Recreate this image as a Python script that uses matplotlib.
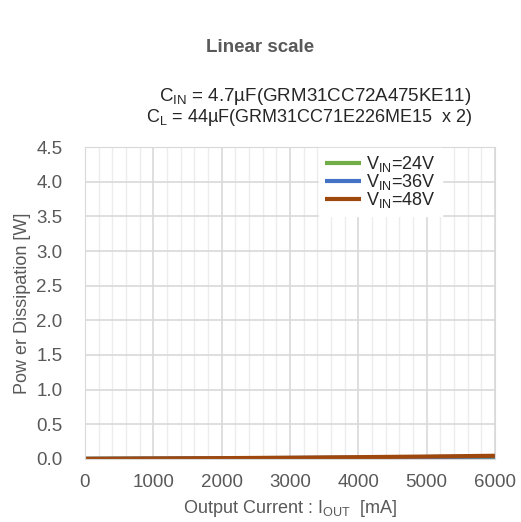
import numpy as np
import matplotlib.pyplot as plt
from matplotlib.ticker import MultipleLocator

plt.rcParams['font.family'] = ['Liberation Sans', 'DejaVu Sans']

# Data (mA, W)
current = [0, 1000, 2000, 3000, 4000, 5000, 6000]
p_24v = [0.0, 0.002, 0.004, 0.006, 0.009, 0.012, 0.016]
p_36v = [0.0, 0.004, 0.008, 0.013, 0.019, 0.026, 0.034]
p_48v = [0.0, 0.005, 0.010, 0.016, 0.024, 0.033, 0.044]
labels = ['V$_{\\mathregular{IN}}$=24V', 'V$_{\\mathregular{IN}}$=36V', 'V$_{\\mathregular{IN}}$=48V']
colors = ['#70ad47', '#4472c4', '#9e480e']

fig = plt.figure(figsize=(5.21, 5.22), dpi=100)
ax = fig.add_axes([0.163, 0.121, 0.787, 0.597])

for y, lab, c in zip([p_24v, p_36v, p_48v], labels, colors):
    ax.plot(current, y, color=c, lw=3, label=lab, solid_capstyle='butt')

ax.set_xlim(0, 6000)
ax.set_ylim(0, 4.5)
ax.xaxis.set_major_locator(MultipleLocator(1000))
ax.xaxis.set_minor_locator(MultipleLocator(200))
ax.yaxis.set_major_locator(MultipleLocator(0.5))
ax.yaxis.set_major_formatter(plt.FuncFormatter(lambda v, p: f'{v:.1f}'))
ax.grid(which='major', color='#d9d9d9', lw=1.2)
ax.grid(which='minor', axis='x', color='#ececec', lw=1)
ax.set_axisbelow(True)
for s in ax.spines.values():
    s.set_color('#d9d9d9')
ax.tick_params(which='both', length=0, labelsize=13.5, colors='#595959')
ax.tick_params(axis='y', pad=16)
ax.tick_params(axis='x', pad=11)

ax.set_xlabel('Output Current : I$_{\\mathregular{OUT}}$  [mA]', fontsize=13, color='#595959', labelpad=5)
ax.set_ylabel('Pow er Dissipation [W]', fontsize=13, color='#595959', labelpad=4)

leg = ax.legend(loc='upper left', bbox_to_anchor=(0.55, 1.025), frameon=True, fontsize=13,
                handlelength=2.0, labelspacing=-0.1, borderpad=0.3, handletextpad=0.3,
                fancybox=False, framealpha=1, edgecolor='white')
for t in leg.get_texts():
    t.set_color('#262626')

fig.text(0.5, 0.9, 'Linear scale', ha='center', fontsize=13.5, fontweight='bold', color='#595959')
fig.text(0.905, 0.806, 'C$_{\\mathregular{IN}}$ = 4.7µF(GRM31CC72A475KE11)', ha='right', fontsize=13.5, color='#262626')
fig.text(0.907, 0.766, 'C$_{\\mathregular{L}}$ = 44µF(GRM31CC71E226ME15  x 2)', ha='right', fontsize=13, color='#262626')

fig.savefig('out.png', dpi=100)
